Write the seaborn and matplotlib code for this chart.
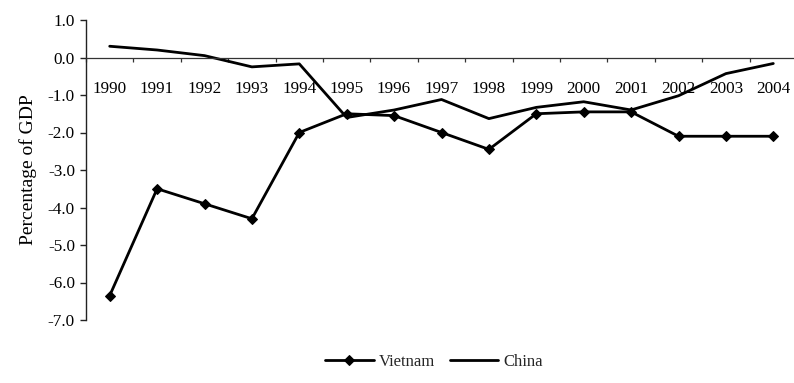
import matplotlib
matplotlib.use("Agg")
import matplotlib.pyplot as plt
from matplotlib.ticker import FixedLocator, NullFormatter, FixedFormatter
import seaborn as sns
import pandas as pd
import numpy as np

years = [1990, 1991, 1992, 1993, 1994, 1995, 1996, 1997, 1998, 1999,
         2000, 2001, 2002, 2003, 2004]
vietnam = [-6.35, -3.5, -3.9, -4.3, -2.0, -1.5, -1.55, -2.0, -2.45, -1.5,
           -1.45, -1.45, -2.1, -2.1, -2.1]
china = [0.3, 0.2, 0.05, -0.25, -0.17, -1.6, -1.4, -1.12, -1.63, -1.33,
         -1.18, -1.4, -1.02, -0.43, -0.16]
y_ticks = [1.0, 0.0, -1.0, -2.0, -3.0, -4.0, -5.0, -6.0, -7.0]

sns.set_theme(style="white")
plt.rcParams["font.family"] = ["Liberation Serif", "DejaVu Serif"]

df = pd.DataFrame({
    "pos": list(range(len(years))) * 2,
    "value": vietnam + china,
    "country": ["Vietnam"] * len(years) + ["China"] * len(years),
})

fig = plt.figure(figsize=(7.94, 3.83), dpi=100)
ax = fig.add_axes([86 / 794, 63 / 383, 711 / 794, 300 / 383])

sns.lineplot(data=df[df.country == "Vietnam"], x="pos", y="value",
             color="black", lw=2.0, marker="D", markersize=5.5,
             markeredgecolor="black", ax=ax, label="Vietnam", legend=False)
sns.lineplot(data=df[df.country == "China"], x="pos", y="value",
             color="black", lw=2.0, ax=ax, label="China", legend=False)

ax.set_xlim(-0.5, len(years) - 0.5)
ax.set_ylim(-7.0, 1.0)

for s in ["top", "right"]:
    ax.spines[s].set_visible(False)
ax.spines["bottom"].set_position(("data", 0))
ax.spines["bottom"].set_color("#333333")
ax.spines["bottom"].set_linewidth(0.9)
ax.spines["left"].set_color("#222222")
ax.spines["left"].set_linewidth(1.0)

# category boundaries get the tick marks, centres carry the year labels
ax.xaxis.set_major_locator(FixedLocator(np.arange(-0.5, len(years), 1.0)))
ax.xaxis.set_major_formatter(NullFormatter())
ax.xaxis.set_minor_locator(FixedLocator(range(len(years))))
ax.xaxis.set_minor_formatter(FixedFormatter([str(y) for y in years]))
ax.tick_params(axis="x", which="major", direction="out", length=3,
               width=0.9, color="#333333", bottom=True)
ax.tick_params(axis="x", which="minor", length=0, pad=17, labelsize=12.3,
               labelcolor="black", bottom=True)

ax.set_yticks(y_ticks)
ax.set_yticklabels([f"{v:.1f}" for v in y_ticks])
ax.tick_params(axis="y", direction="out", length=4, width=1.0,
               color="#222222", left=True, pad=4, labelsize=12.3,
               labelcolor="black")

ax.set_xlabel("")
ax.set_ylabel("Percentage of GDP", fontsize=14, color="black", labelpad=8)

handles, labels = ax.get_legend_handles_labels()
fig.legend(handles, labels, loc="center", bbox_to_anchor=(434 / 794, 1 - 362 / 383),
           ncol=2, frameon=False, fontsize=12, handlelength=2.9,
           handletextpad=0.3, columnspacing=0.9)

fig.savefig("out.png", dpi=100)
